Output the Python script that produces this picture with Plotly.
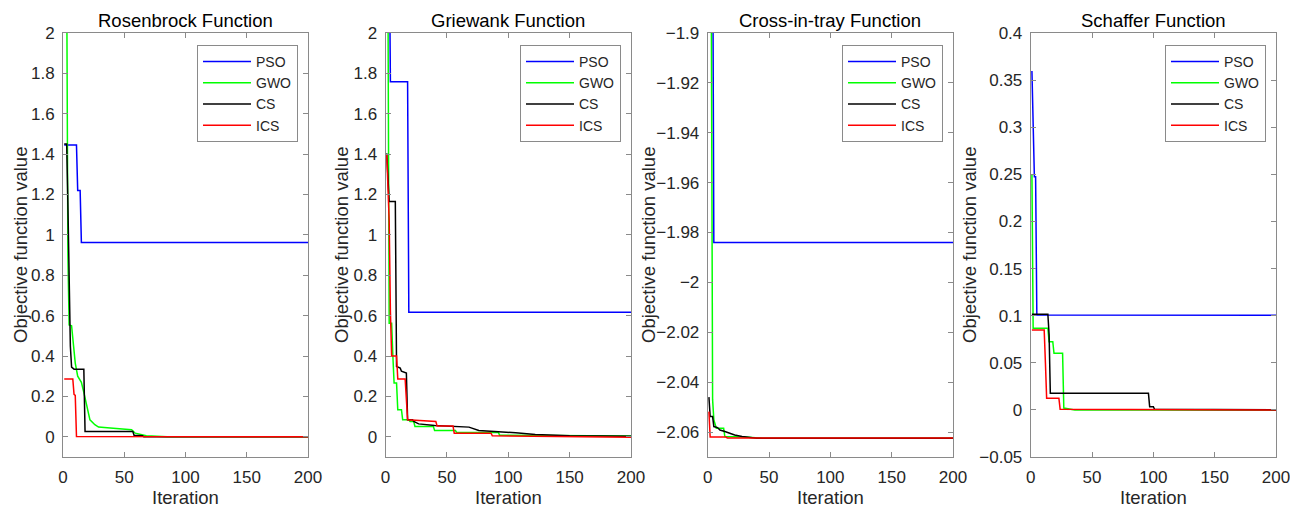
import plotly.graph_objects as go

# ---------------- data (breakpoints) ----------------
algorithms = ["PSO", "GWO", "CS", "ICS"]
colors = ["#0000FF", "#00FF00", "#000000", "#FF0000"]
titles = ["Rosenbrock Function", "Griewank Function", "Cross-in-tray Function", "Schaffer Function"]

# Rosenbrock
ros_pso_it = [1, 11, 12, 14, 15, 200]
ros_pso_v = [1.445, 1.445, 1.22, 1.22, 0.962, 0.962]
ros_gwo_it = [1, 2, 3, 4, 5, 7, 10, 12, 15, 17, 19, 22, 26, 29, 41, 56, 59, 68, 85, 200]
ros_gwo_v = [8.0, 4.0, 2.3, 0.9, 0.554, 0.55, 0.365, 0.30, 0.27, 0.22, 0.17, 0.084, 0.06, 0.048, 0.043, 0.035, 0.018, 0.005, 0.0, 0.0]
ros_cs_it = [1, 3, 4, 5, 6, 7, 9, 17, 18, 57, 58, 65, 66, 200]
ros_cs_v = [1.45, 1.45, 1.15, 0.8, 0.45, 0.345, 0.335, 0.335, 0.026, 0.026, 0.008, 0.005, 0.0, 0.0]
ros_ics_it = [1, 8, 9, 10, 11, 200]
ros_ics_v = [0.286, 0.286, 0.21, 0.205, 0.002, 0.0]

# Griewank
gri_pso_it = [1, 3, 4, 18, 19, 200]
gri_pso_v = [2.8, 2.5, 1.759, 1.759, 0.617, 0.617]
gri_gwo_it = [1, 2, 3, 5, 6, 7, 9, 10, 13, 14, 19, 20, 23, 24, 39, 40, 57, 58, 92, 93, 200]
gri_gwo_v = [3.0, 2.2, 0.563, 0.563, 0.40, 0.266, 0.266, 0.134, 0.134, 0.084, 0.084, 0.076, 0.076, 0.051, 0.051, 0.031, 0.031, 0.021, 0.021, 0.008, 0.004]
gri_cs_it = [1, 2, 3, 8, 9, 12, 13, 17, 18, 22, 23, 27, 40, 68, 76, 106, 122, 150, 200]
gri_cs_v = [1.404, 1.3, 1.165, 1.165, 0.348, 0.34, 0.325, 0.316, 0.084, 0.084, 0.076, 0.064, 0.056, 0.048, 0.031, 0.02, 0.012, 0.005, 0.003]
gri_ics_it = [1, 2, 3, 4, 5, 9, 10, 16, 18, 41, 42, 55, 56, 86, 87, 200]
gri_ics_v = [1.40, 1.25, 1.07, 0.62, 0.40, 0.40, 0.286, 0.286, 0.084, 0.076, 0.054, 0.054, 0.018, 0.018, 0.005, -0.002]

# Cross-in-tray
cit_pso_it = [1, 4, 5, 200]
cit_pso_v = [-1.80, -1.85, -1.984, -1.984]
cit_gwo_it = [1, 2, 3, 4, 5, 7, 13, 14, 30, 45, 200]
cit_gwo_v = [-1.6, -1.75, -1.975, -2.047, -2.055, -2.0585, -2.0585, -2.0618, -2.062, -2.0625, -2.0625]
cit_cs_it = [1, 2, 4, 5, 8, 10, 14, 18, 22, 28, 40, 200]
cit_cs_v = [-2.046, -2.0538, -2.0538, -2.0578, -2.0582, -2.0592, -2.0598, -2.0605, -2.0612, -2.0618, -2.0625, -2.0625]
cit_ics_it = [1, 2, 15, 16, 200]
cit_ics_v = [-2.0518, -2.062, -2.062, -2.0624, -2.0624]

# Schaffer
sch_pso_it = [1, 3, 4, 5, 200]
sch_pso_v = [0.3597, 0.2475, 0.2475, 0.1007, 0.1004]
sch_gwo_it = [1, 2, 14, 15, 18, 19, 26, 27, 36, 200]
sch_gwo_v = [0.2493, 0.0866, 0.0866, 0.0724, 0.0724, 0.060, 0.060, 0.002, 0.0, 0.0]
sch_cs_it = [1, 14, 15, 16, 96, 97, 100, 101, 200]
sch_cs_v = [0.1015, 0.1015, 0.08, 0.0176, 0.0176, 0.0034, 0.0034, 0.0006, 0.0]
sch_ics_it = [1, 11, 12, 13, 23, 24, 200]
sch_ics_v = [0.0848, 0.0848, 0.05, 0.0123, 0.0123, 0.0006, 0.0]

series = [
    [(ros_pso_it, ros_pso_v), (ros_gwo_it, ros_gwo_v), (ros_cs_it, ros_cs_v), (ros_ics_it, ros_ics_v)],
    [(gri_pso_it, gri_pso_v), (gri_gwo_it, gri_gwo_v), (gri_cs_it, gri_cs_v), (gri_ics_it, gri_ics_v)],
    [(cit_pso_it, cit_pso_v), (cit_gwo_it, cit_gwo_v), (cit_cs_it, cit_cs_v), (cit_ics_it, cit_ics_v)],
    [(sch_pso_it, sch_pso_v), (sch_gwo_it, sch_gwo_v), (sch_cs_it, sch_cs_v), (sch_ics_it, sch_ics_v)],
]

x_ticks = [0, 50, 100, 150, 200]
y_ticks_12 = [0, 0.2, 0.4, 0.6, 0.8, 1, 1.2, 1.4, 1.6, 1.8, 2]
y_ticks_12_text = ["0", "0.2", "0.4", "0.6", "0.8", "1", "1.2", "1.4", "1.6", "1.8", "2"]
y_ticks_3 = [-2.06, -2.04, -2.02, -2.0, -1.98, -1.96, -1.94, -1.92, -1.9]
y_ticks_3_text = ["\u22122.06", "\u22122.04", "\u22122.02", "\u22122", "\u22121.98", "\u22121.96", "\u22121.94", "\u22121.92", "\u22121.9"]
y_ticks_4 = [-0.05, 0, 0.05, 0.1, 0.15, 0.2, 0.25, 0.3, 0.35, 0.4]
y_ticks_4_text = ["\u22120.05", "0", "0.05", "0.1", "0.15", "0.2", "0.25", "0.3", "0.35", "0.4"]

y_ranges = [[-0.1, 2], [-0.1, 2], [-2.07, -1.9], [-0.05, 0.4]]
y_tickvals = [y_ticks_12, y_ticks_12, y_ticks_3, y_ticks_4]
y_ticktext = [y_ticks_12_text, y_ticks_12_text, y_ticks_3_text, y_ticks_4_text]

# ---------------- layout geometry (pixels, in page coordinates) ----------------
OFF = 8                      # page body margin around the figure
W, H = 1298 - OFF, 508 - OFF
panel_x = [(63, 308), (385.5, 631), (707.7, 953), (1030.7, 1276)]
plot_top, plot_bot = 33, 457
ylab_x = [20, 341, 648, 969]


def px(x):
    return (x - OFF) / W


def py(y):
    return (H - (y - OFF)) / H


FONT = "Liberation Sans, Arial, sans-serif"
AX_COLOR = "#8a8a8a"
TXT = "#262626"

fig = go.Figure()
layout = dict(
    width=W, height=H,
    margin=dict(l=0, r=0, t=0, b=0, autoexpand=False),
    paper_bgcolor="white", plot_bgcolor="white",
    font=dict(family=FONT, size=16, color=TXT),
    annotations=[],
)

for k in range(4):
    sfx = "" if k == 0 else str(k + 1)
    leg = "legend" if k == 0 else "legend" + str(k + 1)
    for a in range(4):
        it, v = series[k][a]
        fig.add_trace(go.Scatter(
            x=it, y=v, mode="lines", name=algorithms[a],
            line=dict(color=colors[a], width=1.5),
            xaxis="x" + sfx, yaxis="y" + sfx, legend=leg,
            cliponaxis=True,
        ))
    x0, x1 = panel_x[k]
    common = dict(showgrid=False, zeroline=False, showline=True, linecolor=AX_COLOR,
                  linewidth=1, mirror="ticks", ticks="inside", ticklen=5,
                  tickcolor=AX_COLOR, tickwidth=1, automargin=False,
                  tickfont=dict(family=FONT, size=17, color=TXT))
    layout["xaxis" + sfx] = dict(
        domain=[px(x0), px(x1)], range=[0, 200], anchor="y" + sfx,
        tickvals=x_ticks, ticktext=[str(t) for t in x_ticks], ticklabelstandoff=5, **common)
    layout["yaxis" + sfx] = dict(
        domain=[py(plot_bot), py(plot_top)], range=y_ranges[k], anchor="x" + sfx,
        tickvals=y_tickvals[k], ticktext=y_ticktext[k], ticklabelstandoff=4, **common)
    layout[leg] = dict(
        x=px(x1 - 10), y=py(45), xanchor="right", yanchor="top",
        bgcolor="white", bordercolor=AX_COLOR, borderwidth=1,
        font=dict(family=FONT, size=14, color=TXT), itemwidth=48, tracegroupgap=0,
    )
    cx = (x0 + x1) / 2
    layout["annotations"].append(dict(
        text=titles[k], xref="paper", yref="paper", x=px(cx), y=py(20),
        xanchor="center", yanchor="middle", showarrow=False,
        font=dict(family=FONT, size=18.5, color="#000000")))
    layout["annotations"].append(dict(
        text="Iteration", xref="paper", yref="paper", x=px(cx), y=py(497),
        xanchor="center", yanchor="middle", showarrow=False,
        font=dict(family=FONT, size=18.5, color=TXT)))
    layout["annotations"].append(dict(
        text="Objective function value", xref="paper", yref="paper",
        x=px(ylab_x[k]), y=py((plot_top + plot_bot) / 2),
        xanchor="center", yanchor="middle", textangle=-90, showarrow=False,
        font=dict(family=FONT, size=18.5, color=TXT)))

fig.update_layout(**layout)
fig.write_html("out.html")
